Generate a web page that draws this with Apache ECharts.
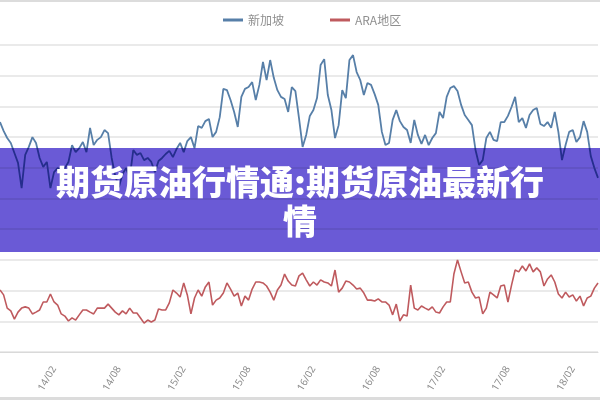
<!DOCTYPE html>
<html>
<head>
<meta charset="utf-8">
<script src="https://cdn.jsdelivr.net/npm/echarts@6/dist/echarts.min.js"></script>
<style>html,body{margin:0;padding:0;background:#fff}#c{width:600px;height:400px}</style>
</head>
<body>
<div id="c"></div>
<script>
// Period categories: three points per month, starting Sep 2013
const startYear = 2013, startMonth = 9, stepsPerMonth = 3, pointCount = 167;
const tickLabels = ['14/02','14/08','15/02','15/08','16/02','16/08','17/02','17/08','18/02'];
const seriesNames = ['新加坡', 'ARA地区'];
const bannerText = '期货原油行情通:期货原油最新行情';

const singapore = [
  74.9, 72.0, 69.7, 68.1, 64.8, 61.6, 53.4, 64.2, 66.8, 70.0,
  68.1, 63.2, 60.3, 61.9, 53.4, 58.6, 59.9, 59.3, 59.9, 61.9,
  67.4, 65.1, 66.4, 68.4, 65.1, 73.0, 67.4, 69.1, 70.0, 72.3,
  71.3, 63.2, 57.3, 53.7, 58.0, 59.9, 56.7, 65.8, 64.2, 64.8,
  62.5, 63.2, 61.9, 58.6, 62.2, 63.2, 64.5, 65.5, 63.5, 66.1,
  68.1, 65.1, 68.7, 70.0, 66.4, 73.6, 73.0, 75.2, 75.9, 70.0,
  71.7, 76.5, 85.7, 85.3, 82.1, 78.2, 73.3, 83.1, 85.7, 86.3,
  87.9, 82.1, 87.0, 94.5, 88.6, 95.1, 89.3, 85.3, 83.1, 82.4,
  78.2, 86.3, 85.0, 76.2, 66.8, 70.7, 76.9, 78.8, 82.7, 93.5,
  95.4, 83.7, 78.8, 69.7, 73.9, 85.3, 82.7, 95.1, 96.7, 91.2,
  88.6, 83.7, 87.6, 87.0, 84.0, 80.5, 71.7, 67.4, 68.1, 75.6,
  78.8, 75.2, 73.3, 72.3, 68.1, 75.6, 70.7, 67.8, 70.7, 67.4,
  69.7, 71.3, 78.2, 76.2, 83.1, 86.0, 86.6, 85.0, 80.5, 77.2,
  75.6, 73.9, 65.8, 60.9, 62.5, 69.7, 71.7, 69.1, 68.7, 74.9,
  74.9, 76.9, 79.8, 83.1, 74.9, 76.2, 73.0, 77.2, 78.8, 79.5,
  74.3, 73.6, 74.9, 73.0, 78.2, 71.7, 62.5, 67.4, 71.7, 72.3,
  68.4, 70.0, 75.2, 71.7, 63.8, 59.9, 56.7
];

const ara = [
  20.2, 18.6, 14.3, 13.4, 10.7, 13.0, 14.3, 14.7, 14.3, 12.4,
  13.0, 13.7, 16.3, 16.3, 18.9, 16.3, 15.3, 12.4, 11.7, 10.1,
  11.1, 10.4, 12.1, 13.7, 13.7, 13.0, 12.4, 14.3, 14.3, 14.3,
  15.6, 14.3, 13.0, 12.1, 13.4, 12.4, 14.3, 12.7, 12.7, 11.1,
  9.4, 10.4, 9.8, 10.4, 14.0, 13.7, 13.7, 16.0, 20.2, 19.2,
  17.9, 22.5, 18.6, 12.4, 17.6, 20.2, 18.2, 21.2, 22.8, 15.3,
  16.9, 17.6, 19.2, 22.5, 20.5, 18.2, 19.2, 15.0, 18.2, 16.9,
  20.5, 22.8, 22.8, 22.5, 21.5, 19.5, 16.9, 20.2, 21.8, 25.4,
  23.1, 21.8, 21.5, 24.8, 25.7, 23.5, 21.5, 22.8, 21.8, 23.5,
  22.8, 22.5, 21.5, 26.7, 19.5, 20.8, 23.1, 22.8, 21.8, 20.5,
  20.8, 19.2, 16.9, 16.9, 16.6, 17.3, 16.3, 16.3, 15.3, 12.1,
  15.6, 10.1, 12.1, 11.7, 21.8, 14.3, 13.7, 15.0, 14.3, 13.7,
  14.7, 13.0, 12.7, 14.7, 16.3, 16.3, 25.4, 30.0, 26.1, 22.5,
  22.8, 19.5, 17.6, 17.9, 12.4, 14.3, 19.5, 18.6, 17.6, 21.5,
  21.8, 16.3, 21.8, 26.7, 26.1, 28.0, 26.4, 28.7, 26.1, 27.4,
  26.1, 21.5, 23.8, 25.1, 22.8, 18.9, 17.6, 19.5, 17.9, 18.6,
  16.6, 18.2, 15.0, 17.6, 18.2, 20.8, 22.5
];

const categories = [];
for (let i = 0; i < pointCount; i++) {
  const m = startMonth - 1 + Math.floor(i / stepsPerMonth);
  const y = startYear + Math.floor(m / 12);
  const mm = (m % 12) + 1;
  const base = String(y % 100).padStart(2, '0') + '/' + String(mm).padStart(2, '0');
  const sub = i % stepsPerMonth;
  categories.push(sub === 0 ? base : base + '#' + sub);
}

const chart = echarts.init(document.getElementById('c'), null, {renderer: 'canvas'});
chart.setOption({
  animation: false,
  backgroundColor: '#ffffff',
  legend: {
    left: 218, top: 9,
    itemWidth: 20, itemHeight: 3, itemGap: 46,
    icon: 'rect',
    textStyle: {color: '#8f8f8f', fontSize: 12, fontFamily: 'Noto Sans CJK SC'},
    data: seriesNames
  },
  grid: {left: -1, right: 2, top: 45, bottom: 48, containLabel: false},
  xAxis: {
    type: 'category',
    data: categories,
    boundaryGap: false,
    axisLine: {lineStyle: {color: '#d9d9d9', width: 1}},
    axisTick: {show: false},
    axisLabel: {
      rotate: 60, margin: 15, fontSize: 10, color: '#8c8c8c', fontFamily: 'Noto Sans',
      interval: (idx, val) => tickLabels.indexOf(val) >= 0,
      formatter: v => v
    },
    splitLine: {show: false}
  },
  yAxis: {
    type: 'value', min: 0, max: 100, interval: 10,
    axisLabel: {show: false}, axisLine: {show: false}, axisTick: {show: false},
    splitLine: {lineStyle: {color: '#e3e3e3', width: 1.5}}
  },
  series: [
    {name: seriesNames[0], type: 'line', data: singapore, showSymbol: false, symbol: 'none',
     lineStyle: {color: '#577fa8', width: 1.8}, itemStyle: {color: '#577fa8'}},
    {name: seriesNames[1], type: 'line', data: ara, showSymbol: false, symbol: 'none',
     lineStyle: {color: '#bf5a5e', width: 1.6}, itemStyle: {color: '#bf5a5e'}}
  ],
  graphic: [
    {type: 'rect', z: 100, left: 0, top: 0, shape: {x: 0, y: 0, width: 600, height: 2},
     style: {fill: '#dcdcdc'}},
    {type: 'rect', z: 100, left: 0, top: 397, shape: {x: 0, y: 0, width: 600, height: 3},
     style: {fill: '#dcdcdc'}},
    {type: 'rect', z: 100, left: 0, top: 148, shape: {x: 0, y: 0, width: 600, height: 104},
     style: {fill: '#6a5ad6', blend: 'multiply'}},
    {type: 'text', z: 101, x: 300, y: 163,
     style: {text: bannerText, width: 500, overflow: 'break',
       textAlign: 'center', textVerticalAlign: 'top', align: 'center', verticalAlign: 'top',
       fill: '#ffffff', font: '900 34px "Noto Sans CJK SC"', lineHeight: 39}}
  ]
});
</script>
</body>
</html>
